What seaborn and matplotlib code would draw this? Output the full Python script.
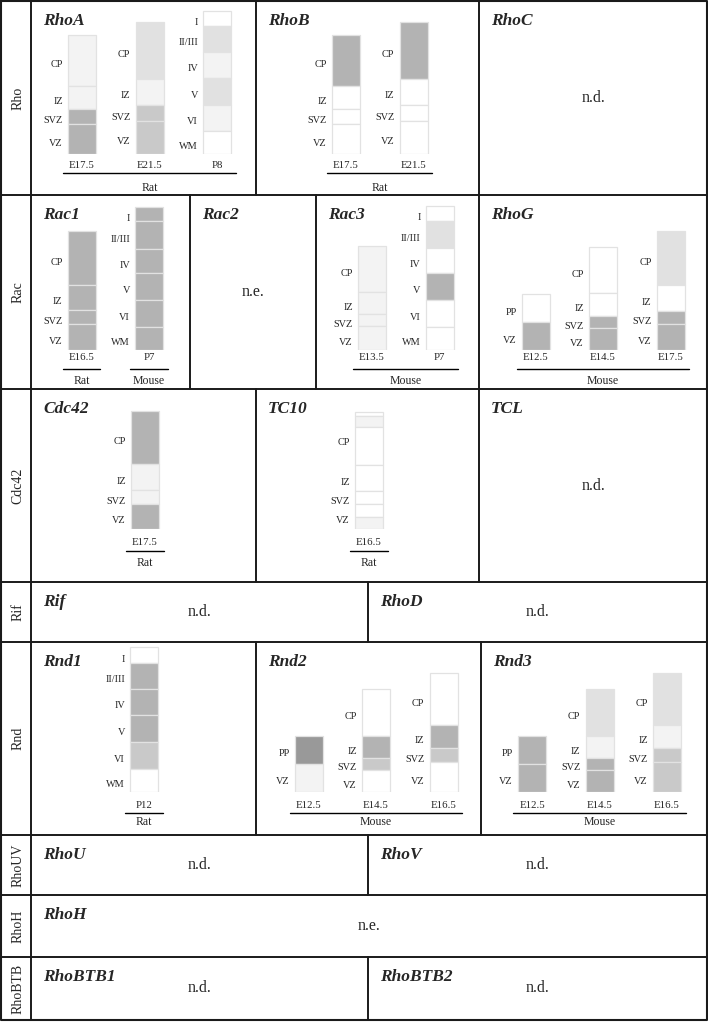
import matplotlib.pyplot as plt
import numpy as np
import seaborn as sns

sns.set_theme(style="white")
plt.rcParams['font.family'] = ['Liberation Serif', 'DejaVu Serif']

# ---------------- data ----------------
# expression level per layer: 0 none ... 5 strongest
embryo = ['CP', 'IZ', 'SVZ', 'VZ']
early = ['PP', 'VZ']
adult = ['I', 'II/III', 'IV', 'V', 'VI', 'WM']

rhoa_stages = ['E17.5', 'E21.5', 'P8']
rhoa_species = ['Rat', 'Rat', 'Rat']
rhoa_layers = [embryo, embryo, adult]
rhoa_thick = [[51, 23, 15, 30], [57, 26, 16, 33], [15, 26, 26, 27, 26, 23]]
rhoa_level = [[1, 1, 4, 4], [2, 1, 3, 3], [0, 2, 1, 2, 1, 0]]

rhob_stages = ['E17.5', 'E21.5']
rhob_species = ['Rat', 'Rat']
rhob_layers = [embryo, embryo]
rhob_thick = [[51, 23, 15, 30], [57, 26, 16, 33]]
rhob_level = [[4, 0, 0, 0], [4, 0, 0, 0]]

rac1_stages = ['E16.5', 'P7']
rac1_species = ['Rat', 'Mouse']
rac1_layers = [embryo, adult]
rac1_thick = [[54, 25, 14, 26], [14, 28, 24, 27, 27, 23]]
rac1_level = [[4, 4, 4, 4], [4, 4, 4, 4, 4, 4]]

rac3_stages = ['E13.5', 'P7']
rac3_species = ['Mouse', 'Mouse']
rac3_layers = [embryo, adult]
rac3_thick = [[46, 22, 12, 24], [15, 27, 25, 27, 27, 23]]
rac3_level = [[1, 1, 1, 1], [0, 2, 0, 4, 0, 0]]

rhog_stages = ['E12.5', 'E14.5', 'E17.5']
rhog_species = ['Mouse', 'Mouse', 'Mouse']
rhog_layers = [early, embryo, embryo]
rhog_thick = [[28, 28], [46, 23, 12, 22], [54, 26, 13, 26]]
rhog_level = [[0, 4], [0, 0, 4, 4], [2, 0, 4, 4]]

cdc42_stages = ['E17.5']
cdc42_species = ['Rat']
cdc42_layers = [embryo]
cdc42_thick = [[53, 26, 14, 25]]
cdc42_level = [[4, 1, 1, 4]]

tc10_stages = ['E16.5']
tc10_species = ['Rat']
tc10_layers = [['CP', 'CP', 'CP', 'IZ', 'SVZ', 'VZ', 'VZ']]
tc10_thick = [[4, 11, 38, 26, 13, 13, 12]]
tc10_level = [[0, 1, 0, 0, 0, 0, 1]]

rnd1_stages = ['P12']
rnd1_species = ['Rat']
rnd1_layers = [adult]
rnd1_thick = [[16, 26, 26, 27, 27, 23]]
rnd1_level = [[0, 4, 4, 4, 3, 0]]

rnd2_stages = ['E12.5', 'E14.5', 'E16.5']
rnd2_species = ['Mouse', 'Mouse', 'Mouse']
rnd2_layers = [early, embryo, embryo]
rnd2_thick = [[28, 28], [47, 22, 12, 22], [52, 23, 14, 30]]
rnd2_level = [[5, 1], [0, 4, 3, 0], [0, 4, 3, 0]]

rnd3_stages = ['E12.5', 'E14.5', 'E16.5']
rnd3_species = ['Mouse', 'Mouse', 'Mouse']
rnd3_layers = [early, embryo, embryo]
rnd3_thick = [[28, 28], [47, 22, 12, 22], [52, 23, 14, 30]]
rnd3_level = [[4, 4], [2, 1, 4, 4], [2, 1, 3, 3]]

row_names = ['Rho', 'Rac', 'Cdc42', 'Rif', 'Rnd', 'RhoUV', 'RhoH', 'RhoBTB']
genes = [['RhoA', 'RhoB', 'RhoC'], ['Rac1', 'Rac2', 'Rac3', 'RhoG'],
         ['Cdc42', 'TC10', 'TCL'], ['Rif', 'RhoD'], ['Rnd1', 'Rnd2', 'Rnd3'],
         ['RhoU', 'RhoV'], ['RhoH'], ['RhoBTB1', 'RhoBTB2']]
notes = {'RhoC': 'n.d.', 'Rac2': 'n.e.', 'TCL': 'n.d.', 'Rif': 'n.d.',
         'RhoD': 'n.d.', 'RhoU': 'n.d.', 'RhoV': 'n.d.', 'RhoH': 'n.e.',
         'RhoBTB1': 'n.d.', 'RhoBTB2': 'n.d.'}

bar_data = {
    'RhoA': (rhoa_stages, rhoa_species, rhoa_layers, rhoa_thick, rhoa_level),
    'RhoB': (rhob_stages, rhob_species, rhob_layers, rhob_thick, rhob_level),
    'Rac1': (rac1_stages, rac1_species, rac1_layers, rac1_thick, rac1_level),
    'Rac3': (rac3_stages, rac3_species, rac3_layers, rac3_thick, rac3_level),
    'RhoG': (rhog_stages, rhog_species, rhog_layers, rhog_thick, rhog_level),
    'Cdc42': (cdc42_stages, cdc42_species, cdc42_layers, cdc42_thick, cdc42_level),
    'TC10': (tc10_stages, tc10_species, tc10_layers, tc10_thick, tc10_level),
    'Rnd1': (rnd1_stages, rnd1_species, rnd1_layers, rnd1_thick, rnd1_level),
    'Rnd2': (rnd2_stages, rnd2_species, rnd2_layers, rnd2_thick, rnd2_level),
    'Rnd3': (rnd3_stages, rnd3_species, rnd3_layers, rnd3_thick, rnd3_level),
}

# ---------------- layout / style ----------------
W, H = 708, 1022
shades = {0: '#ffffff', 1: '#f3f3f3', 2: '#e1e1e1', 3: '#c9c9c9',
          4: '#b3b3b3', 5: '#999999'}
row_edges = [1, 195, 389, 582, 642, 835, 895, 957, 1020]
col_splits = [[256, 479], [190, 316, 479], [256, 479], [368],
              [256, 481], [368], [], [368]]
first_bar_x = {'RhoA': 82, 'RhoB': 346, 'Rac1': 81.5, 'Rac3': 372,
               'RhoG': 535.5, 'Cdc42': 145, 'TC10': 369, 'Rnd1': 144,
               'Rnd2': 308.5, 'Rnd3': 532}
row_base = {0: 154, 1: 350, 2: 529, 4: 792}
# offsets below baseline: stage text, underline, species text
row_offsets = {0: (12, 19, 34), 1: (7, 19, 31), 2: (13, 22, 34), 4: (14, 21, 30)}
SLOT = 67.5
BAR_W = 28 / SLOT
AX_H = 170
LX = 31
LINE = '#1a1a1a'


def draw_bars(fig, gene, r):
    stages, species, layers, thick, level = bar_data[gene]
    n = len(stages)
    left = first_bar_x[gene] - SLOT / 2
    base = row_base[r]
    ax = fig.add_axes([left / W, 1 - base / H, n * SLOT / W, AX_H / H])
    ax.set_xlim(-0.5, n - 0.5)
    ax.set_ylim(0, AX_H)
    ax.axis('off')
    off_stage, off_line, off_sp = row_offsets[r]
    for i in range(n):
        t = np.array(thick[i], float)
        tops = t.sum() - np.concatenate([[0], np.cumsum(t)[:-1]])
        bottoms = tops - t
        ax.bar(i, t, bottom=bottoms, width=BAR_W,
               color=[shades[l] for l in level[i]],
               edgecolor='#e2e2e2', linewidth=0.9)
        names = layers[i]
        k = 0
        while k < len(names):
            j = k
            while j + 1 < len(names) and names[j + 1] == names[k]:
                j += 1
            yc = (tops[k] + bottoms[j]) / 2 - 4
            ax.text(i - BAR_W / 2 - 5 / SLOT, yc, names[k], ha='right',
                    va='center', fontsize=7.4)
            k = j + 1
        ax.text(i, -off_stage, stages[i], ha='center', va='center', fontsize=7.8)
    # species groups
    k = 0
    while k < n:
        j = k
        while j + 1 < n and species[j + 1] == species[k]:
            j += 1
        ax.plot([k - 0.28, j + 0.28], [-off_line, -off_line], color='black',
                lw=1.0, clip_on=False)
        ax.text((k + j) / 2, -off_sp, species[k], ha='center', va='center',
                fontsize=8.5)
        k = j + 1


fig = plt.figure(figsize=(W / 100, H / 100), dpi=100)
grid = fig.add_axes([0, 0, 1, 1])
grid.set_xlim(0, W)
grid.set_ylim(H, 0)
grid.axis('off')

grid.plot([1, 707, 707, 1, 1], [1, 1, 1020, 1020, 1], color=LINE, lw=1.5)
grid.plot([LX, LX], [1, 1020], color=LINE, lw=1.4)

for r, name in enumerate(row_names):
    top, bot = row_edges[r], row_edges[r + 1]
    if r:
        grid.plot([1, 707], [top, top], color=LINE, lw=1.4)
    grid.text(18, (top + bot) / 2, name, rotation=90, ha='center',
              va='center', fontsize=10)
    lefts = [LX] + col_splits[r]
    rights = col_splits[r] + [707]
    for x in col_splits[r]:
        grid.plot([x, x], [top, bot], color=LINE, lw=1.4)
    for gene, x0, x1 in zip(genes[r], lefts, rights):
        grid.text(x0 + 12, top + 20, gene, fontsize=12.5, fontweight='bold',
                  fontstyle='italic', va='center', ha='left')
        if gene in notes:
            grid.text((x0 + x1) / 2, (top + bot) / 2, notes[gene],
                      ha='center', va='center', fontsize=11.5)
        else:
            draw_bars(fig, gene, r)

fig.savefig('out.png', dpi=100)
